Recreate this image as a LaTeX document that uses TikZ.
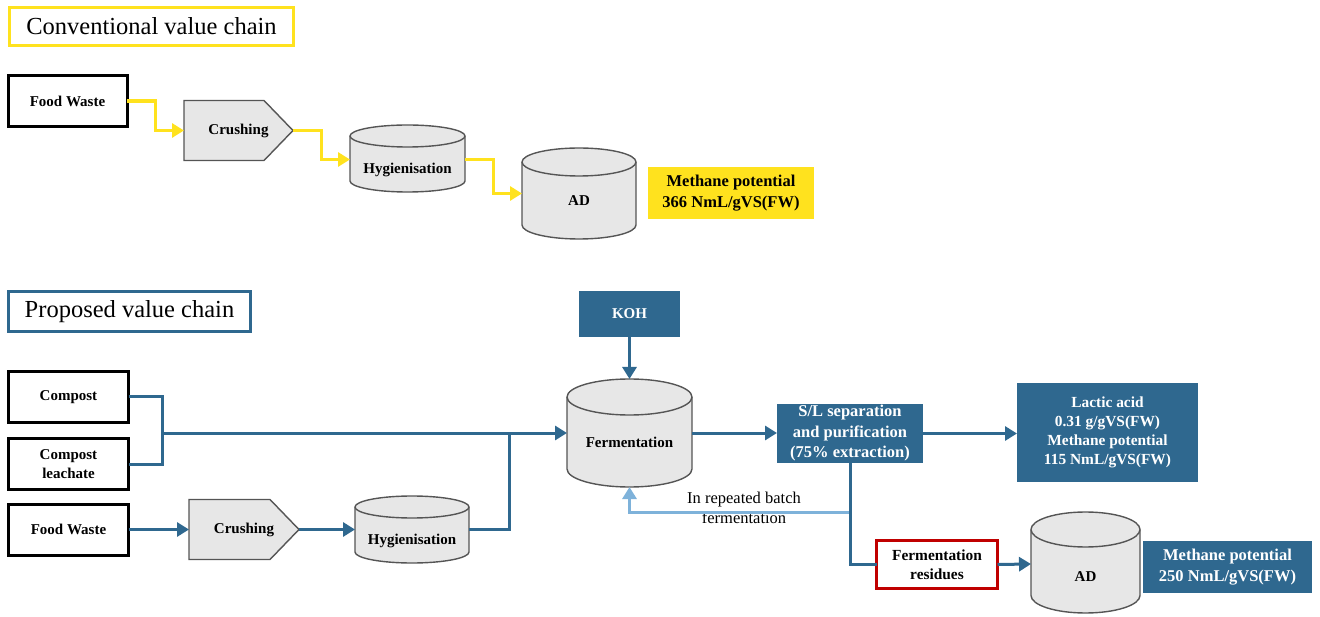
\documentclass[tikz,border=0pt]{standalone}
\usepackage{fontspec}
\setmainfont{Liberation Serif}
\usetikzlibrary{arrows.meta,calc,backgrounds}
\definecolor{blueC}{RGB}{47,104,143}
\definecolor{lblueC}{RGB}{126,178,218}
\definecolor{yelC}{RGB}{255,226,30}
\definecolor{redC}{RGB}{192,0,0}
\definecolor{grayF}{RGB}{231,231,231}
\definecolor{grayD}{RGB}{85,85,85}
\newcommand\fsz[2]{\fontsize{#1}{#2}\selectfont}
% node, rx, ry, gap from node top up to top-ellipse centre
\newcommand\cylshape[4]{%
\begin{pgfonlayer}{background}
\filldraw[cyl line] ($(#1.north west)+(0,-#4)$) -- ($(#1.south west)+(0,-#3)$) arc[start angle=180,end angle=360,x radius=#2pt,y radius=#3pt] -- ($(#1.north east)+(0,-#4)$) arc[start angle=0,end angle=180,x radius=#2pt,y radius=#3pt] -- cycle;
\draw[cyl line,fill=none] ($(#1.north west)+(0,-#4)$) arc[start angle=180,end angle=360,x radius=#2pt,y radius=#3pt];
\end{pgfonlayer}}
\newcommand\pentshape[2]{%
\begin{pgfonlayer}{background}
\filldraw[cyl line] (#1.north west) -- ($(#1.north east)+(-#2,0)$) -- (#1.east) -- ($(#1.south east)+(-#2,0)$) -- (#1.south west) -- cycle;
\end{pgfonlayer}}
\tikzset{
 cyl line/.style={draw=grayD, fill=grayF, line width=1.4pt},
 shapenode/.style={inner sep=0pt, outer sep=0pt, align=center, font=\bfseries\fsz{15}{19}},
 blackbox/.style={draw=black, line width=3pt, fill=white, inner sep=0pt, outer sep=0pt, align=center, font=\bfseries\fsz{15}{19}},
 redbox/.style={draw=redC, line width=3pt, fill=white, inner sep=0pt, outer sep=0pt, align=center, font=\bfseries\fsz{15.4}{19}},
 bluebox/.style={fill=blueC, text=white, inner sep=0pt, outer sep=0pt, align=center, font=\bfseries\fsz{16.5}{20.5}},
 yelbox/.style={fill=yelC, text=black, inner sep=0pt, outer sep=0pt, align=center, font=\bfseries\fsz{16.5}{20.5}},
 titlebox/.style={line width=3pt, fill=white, inner sep=0pt, outer sep=0pt, font=\fsz{24.5}{28}},
 tipA/.tip={Triangle[length=12pt,width=14pt]},
 yarrow/.style={draw=yelC, line width=3.5pt, -tipA},
 bline/.style={draw=blueC, line width=3pt},
 barrow/.style={bline, -tipA},
 lbarrow/.style={draw=lblueC, line width=3pt, -tipA},
 plain/.style={inner sep=0pt, align=center, font=\fsz{16.5}{20}}
}
\begin{document}
\begin{tikzpicture}[x=1pt,y=-1pt]
\useasboundingbox (0,0) rectangle (1320,617);
% ---------- conventional ----------
\node[titlebox, draw=yelC, minimum width=284pt, minimum height=38pt] (t1) at (151.5,26.5) {Conventional value chain};
\node[blackbox, minimum width=119pt, minimum height=51pt] (fw1) at (67.5,101) {Food Waste};
\node[shapenode, minimum width=109pt, minimum height=60pt] (cr1) at (238.5,130.5) {Crushing};
\pentshape{cr1}{29}
\node[shapenode, minimum width=115pt, minimum height=45pt] (hy1) at (407.5,169.5) {Hygienisation};
\cylshape{hy1}{57.5}{11}{11}
\node[shapenode, minimum width=114pt, minimum height=77pt] (ad1) at (579,200.5) {AD};
\cylshape{ad1}{57}{14}{0}
\node[yelbox, minimum width=166pt, minimum height=52pt] (m1) at (731,193) {Methane potential\\366 NmL/gVS(FW)};
\coordinate (hy1in) at ($(hy1.west)+(0,-10)$);
\coordinate (hy1out) at ($(hy1.east)+(0,-10)$);
\coordinate (ad1in) at ($(ad1.west)+(0,-7)$);
\draw[yarrow] (fw1.east) -| ($(fw1.east)!.5!(cr1.west)$) |- (cr1.west);
\draw[yarrow] (cr1.east) -| ($(cr1.east)!.5!(hy1in)$) |- (hy1in);
\draw[yarrow] (hy1out) -| ($(hy1out)!.5!(ad1in)$) |- (ad1in);
% ---------- proposed ----------
\node[titlebox, draw=blueC, minimum width=242pt, minimum height=40pt] (t2) at (129.5,311.5) {Proposed value chain};
\node[blackbox, minimum width=120pt, minimum height=51pt] (comp) at (68.5,397) {Compost};
\node[blackbox, minimum width=120pt, minimum height=51pt] (leach) at (68.5,464) {Compost\\leachate};
\node[blackbox, minimum width=120pt, minimum height=51pt] (fw2) at (68.5,529.5) {Food Waste};
\node[shapenode, minimum width=110pt, minimum height=60pt] (cr2) at (244,529.5) {Crushing};
\pentshape{cr2}{29}
\node[shapenode, minimum width=114pt, minimum height=45pt] (hy2) at (412,540.5) {Hygienisation};
\cylshape{hy2}{57}{11}{11}
\node[bluebox, font=\bfseries\fsz{15}{19}, minimum width=101pt, minimum height=46pt] (koh) at (629.5,314) {KOH};
\node[shapenode, minimum width=125pt, minimum height=90pt] (ferm) at (629.5,442) {Fermentation};
\cylshape{ferm}{62.5}{18}{0}
\node[bluebox, minimum width=146pt, minimum height=59pt] (sl) at (850,433.5) {S/L separation\\and purification\\(75\% extraction)};
\node[bluebox, font=\bfseries\fsz{15.4}{19}, minimum width=181pt, minimum height=99pt] (lac) at (1107.5,432.5) {Lactic acid\\0.31 g/gVS(FW)\\Methane potential\\115 NmL/gVS(FW)};
\node[redbox, minimum width=121pt, minimum height=48pt] (res) at (937,564.5) {Fermentation\\residues};
\node[shapenode, minimum width=109pt, minimum height=73pt] (ad2) at (1085.5,576.5) {AD};
\cylshape{ad2}{54.5}{17.5}{10.5}
\node[bluebox, minimum width=169pt, minimum height=52pt] (m2) at (1227.5,567) {Methane potential\\250 NmL/gVS(FW)};
\node[plain] (lbl) at (744,508) {In repeated batch\\fermentation};
% connectors
\coordinate (j1) at (162,433);
\coordinate (j2) at (509,433);
\coordinate (hy2in) at ($(hy2.west)+(0,-11)$);
\coordinate (hy2out) at ($(hy2.east)+(0,-11)$);
\coordinate (fermin) at ($(ferm.west)+(0,-9)$);
\coordinate (fermout) at ($(ferm.east)+(0,-9)$);
\coordinate (fermtop) at ($(ferm.north)+(0,-18)$);
\coordinate (fb) at ($(sl.south)+(0,49)$);
\coordinate (ad2in) at ($(ad2.west)+(0,-12.5)$);
\draw[bline] (comp.east) -| (j1) |- (leach.east);
\draw[barrow] (j1) -- (fermin);
\draw[bline] (hy2out) -| (j2);
\draw[barrow] (fw2.east) -- (cr2.west);
\draw[barrow] (cr2.east) -- (hy2in);
\draw[barrow] (koh.south) -- (fermtop);
\draw[barrow] (fermout) -- (sl.west |- fermout);
\draw[barrow] (sl.east) -- (lac.west |- sl.east);
\draw[lbarrow] (fb) -| (ferm.south);
\draw[bline] (sl.south) |- (res.west);
\draw[barrow] (res.east) -- (ad2in);
\end{tikzpicture}
\end{document}
